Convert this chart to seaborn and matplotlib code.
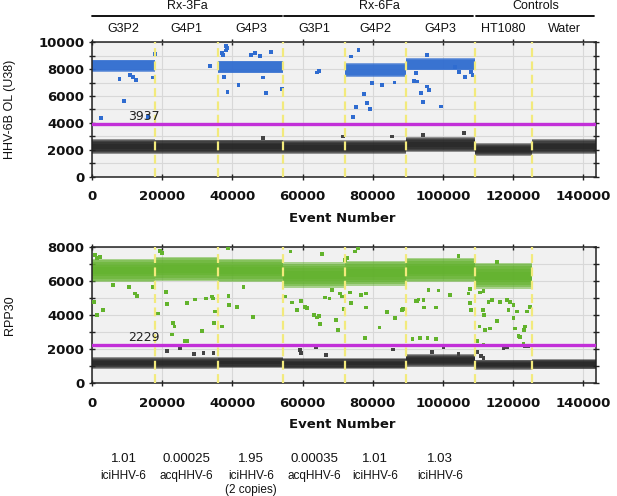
import numpy as np
import pandas as pd
import seaborn as sns
import matplotlib.pyplot as plt
from matplotlib.ticker import MultipleLocator
from matplotlib.transforms import blended_transform_factory

# wells (event number boundaries) and their groups
wells = ["G3P2", "G4P1", "G4P3", "G3P1", "G4P2", "G4P3", "HT1080", "Water"]
well_edges = [0, 18000, 36000, 54500, 72100, 89400, 109100, 125500, 143600]
groups = ["Rx-3Fa", "Rx-6Fa", "Controls"]
group_edges = [0, 54500, 109100, 143600]

nan = np.nan
# HHV-6B OL (U38) droplet clusters: centre and half spread per well
u38_pos_center = [8250, nan, 8150, nan, 7950, 8350, nan, nan]
u38_pos_spread = [450, nan, 470, nan, 500, 450, nan, nan]
u38_neg_center = [2250, 2220, 2220, 2200, 2200, 2400, 2020, 2230]
u38_neg_spread = [560, 540, 540, 540, 540, 560, 500, 540]
u38_threshold = 3937

# RPP30 droplet clusters
rpp_pos_center = [6600, 6700, 6600, 6350, 6450, 6650, 6300, nan]
rpp_pos_spread = [680, 700, 680, 760, 740, 720, 760, nan]
rpp_neg_center = [1190, 1190, 1220, 1160, 1160, 1330, 1090, 1120]
rpp_neg_spread = [330, 330, 330, 320, 320, 360, 290, 300]
rpp_threshold = 2229

# scattered droplets outside the main clusters
u38_out_x = [2560, 9200, 7800, 10800, 11770, 12540, 17950, 17470, 16050, 33630,
             38190, 38380, 38100, 37400, 37130, 38570, 41700, 37700, 45300, 46450,
             47880, 51000, 49500, 48800, 54060, 64200, 64600, 73700, 75900, 77500,
             78300, 79300, 75150, 74300, 79700, 82560, 86150, 92250, 91770, 95500,
             93760, 94300, 95500, 96000, 99450, 104500, 106200, 103400, 108400, 107900,
             92600, 48800, 71450, 85500, 94300, 105950]
u38_out_y = [4345, 5650, 7270, 7570, 7440, 7200, 9130, 7370, 4460, 8240,
             9720, 9550, 9380, 9050, 9180, 6280, 6820, 7400, 9050, 9180,
             8980, 9300, 6250, 7370, 6500, 7740, 7840, 8930, 9430, 6130,
             5460, 5010, 5160, 4460, 6950, 6820, 7000, 7690, 7140, 9050,
             6200, 5580, 6700, 6450, 5210, 7810, 7440, 8180, 7570, 7810,
             7070, 2900, 2980, 2980, 3100, 3270]

rpp_out_x = [850, 1510, 2280, 570, 1340, 3220, 6070, 10630, 12250, 12910,
             17470, 18900, 19380, 19860, 21090, 21460, 23170, 23460, 22710, 21280,
             25080, 26500, 27000, 27160, 29350, 31430, 32480, 34100, 34400, 29070,
             31740, 34580, 35060, 34770, 36960, 38850, 39050, 41240, 38670, 43120,
             45790, 56600, 65460, 55000, 56900, 59560, 58330, 60700, 61190, 63270,
             64040, 64700, 64980, 59280, 59470, 63840, 66690, 66400, 67630, 68300,
             69540, 70010, 71170, 70690, 71640, 72100, 72590, 74950, 75710, 73530,
             73720, 76580, 78090, 78090, 77810, 81880, 83980, 86350, 88260, 88550,
             85690, 91270, 92500, 93470, 95560, 97950, 92330, 92990, 94410, 94610,
             97950, 96810, 100100, 104400, 95840, 98690, 102000, 107240, 107730, 110570,
             111520, 107730, 107920, 111330, 111710, 110370, 111990, 113410, 109610, 111520,
             110760, 111520, 115330, 112930, 113890, 116270, 118180, 119120, 120070, 118650,
             120070, 121030, 120550, 123400, 123110, 121500, 121980, 122920, 123400, 124340,
             124820, 123870, 109610, 117230, 118180, 104400, 115330]
rpp_out_y = [7520, 7330, 7420, 4780, 4000, 4300, 5760, 5660, 5270, 5130,
             5660, 4100, 7770, 7620, 5370, 4630, 3520, 3320, 2870, 1890,
             2050, 2480, 2480, 4690, 4920, 3080, 4980, 5080, 4980, 1720,
             1760, 1760, 4200, 3520, 3320, 5130, 4590, 4490, 7950, 5660,
             3900, 7720, 7560, 5080, 4730, 4820, 4300, 4490, 4400, 4000,
             3850, 3950, 3460, 1950, 1760, 2090, 1660, 5020, 4980, 5470,
             3710, 3120, 5080, 5270, 4360, 7230, 7330, 7720, 7910, 5330,
             4690, 5180, 5270, 4450, 2670, 3280, 4160, 3810, 4300, 4360,
             1990, 2580, 4820, 2640, 2640, 2580, 4820, 4920, 4880, 4450,
             4450, 1850, 2110, 1720, 5470, 5430, 5180, 5270, 5510, 5330,
             5410, 4690, 4300, 4300, 4000, 3320, 3120, 3220, 2480, 2250,
             1600, 1470, 3670, 4780, 4880, 4780, 4880, 4780, 4590, 4300,
             3810, 4200, 3220, 3320, 3120, 2770, 2700, 2340, 2190, 2190,
             4490, 4200, 1850, 2050, 2110, 7460, 7090]

# copy-number ratio and call under the wells of the two samples
ratios = ["1.01", "0.00025", "1.95", "0.00035", "1.01", "1.03"]
calls = ["iciHHV-6", "acqHHV-6", "iciHHV-6", "acqHHV-6", "iciHHV-6", "iciHHV-6"]
notes = ["", "", "(2 copies)", "", "", ""]

sns.set_theme(style="ticks")
plt.rcParams["font.family"] = ["Liberation Sans", "DejaVu Sans"]

# band look: (base colour, alpha per layer, layer fractions of the spread)
BLUE = ("#2f6cd0", 0.62, [1.0, 0.9, 0.75])
GREEN = ("#62b22c", 0.5, [1.0, 0.88, 0.72, 0.5, 0.3])
GRAY = ("#222222", 0.46, [1.0, 0.88, 0.74, 0.55, 0.35])


def draw_bands(ax, centers, spreads, look):
    color, alpha, fracs = look
    for i, (c, s) in enumerate(zip(centers, spreads)):
        if np.isnan(c):
            continue
        x0, x1 = well_edges[i], well_edges[i + 1]
        for frac in fracs:
            ax.fill_between([x0, x1], c - frac * s, c + frac * s, color=color,
                            alpha=alpha, linewidth=0, zorder=2)


def style_axes(ax, ymax):
    ax.set_facecolor("#f1f1f1")
    ax.set_xlim(0, well_edges[-1])
    ax.set_ylim(0, ymax)
    ax.xaxis.set_major_locator(MultipleLocator(20000))
    ax.yaxis.set_major_locator(MultipleLocator(2000))
    ax.yaxis.set_minor_locator(MultipleLocator(1000))
    ax.grid(which="both", color="#d8d8d8", linewidth=0.8, zorder=0)
    ax.set_axisbelow(True)
    ax.tick_params(which="both", direction="inout", length=5, width=1,
                   top=True, right=True, color="#222222")
    ax.tick_params(axis="x", pad=7)
    ax.tick_params(axis="y", pad=3)
    for lab in ax.get_xticklabels() + ax.get_yticklabels():
        lab.set_fontfamily("DejaVu Sans")
        lab.set_fontweight("bold")
        lab.set_fontsize(9.5)
        lab.set_color("#111111")
    for sp in ax.spines.values():
        sp.set_color("#222222")
        sp.set_linewidth(1.1)
    for e in well_edges[1:-1]:
        ax.axvline(e, color="#f2ea7c", linewidth=1.6, linestyle=(0, (4, 2)), zorder=4)
    ax.set_xlabel("")
    ax.set_ylabel("")


def draw_outliers(ax, xs, ys, thr, pos_color):
    df = pd.DataFrame({"event": xs, "amp": ys})
    df["kind"] = np.where(df["amp"] > thr, "pos", "neg")
    sns.scatterplot(data=df, x="event", y="amp", hue="kind",
                    palette={"pos": pos_color, "neg": "#444444"},
                    marker="s", s=7, linewidth=0, legend=False, ax=ax, zorder=3)


fig = plt.figure(figsize=(6.17, 4.96), dpi=100)
ax1 = fig.add_axes([0.1491, 0.6438, 0.8169, 0.2710])
ax2 = fig.add_axes([0.1491, 0.2272, 0.8169, 0.2752])

# top panel: HHV-6B
draw_bands(ax1, u38_neg_center, u38_neg_spread, GRAY)
draw_bands(ax1, u38_pos_center, u38_pos_spread, BLUE)
draw_outliers(ax1, u38_out_x, u38_out_y, u38_threshold, "#2f6cd0")
ax1.axhline(u38_threshold, color="#c22fd8", linewidth=2.4, zorder=5)
ax1.text(10300, u38_threshold + 60, str(u38_threshold), fontsize=9,
         family="DejaVu Sans", color="#222222", va="bottom", zorder=6)
style_axes(ax1, 10000)

# bottom panel: RPP30
draw_bands(ax2, rpp_neg_center, rpp_neg_spread, GRAY)
draw_bands(ax2, rpp_pos_center, rpp_pos_spread, GREEN)
draw_outliers(ax2, rpp_out_x, rpp_out_y, rpp_threshold, "#62b32c")
ax2.axhline(rpp_threshold, color="#c22fd8", linewidth=2.4, zorder=5)
ax2.text(10350, rpp_threshold + 60, str(rpp_threshold), fontsize=9,
         family="DejaVu Sans", color="#222222", va="bottom", zorder=6)
style_axes(ax2, 8000)

fig.text(0.016, 0.7793, "HHV-6B OL (U38)", rotation=90, fontsize=9,
         ha="center", va="center", color="#111111")
fig.text(0.016, 0.365, "RPP30", rotation=90, fontsize=9,
         ha="center", va="center", color="#111111")
for yy in [0.56, 0.145]:
    fig.text(0.555, yy, "Event Number", fontsize=9.5, fontweight="bold",
             family="DejaVu Sans", ha="center", va="center", color="#111111")

# headers above the top panel
tr = blended_transform_factory(ax1.transData, fig.transFigure)
for g, a, b in zip(groups, group_edges[:-1], group_edges[1:]):
    ax1.plot([a + (300 if a else 0), b - 500], [1 - 16 / 496] * 2, color="black",
             linewidth=1.3, transform=tr, clip_on=False)
    ax1.text((a + b) / 2, 1 - 6 / 496, g, transform=tr, ha="center", va="center",
             fontsize=9, color="#111111")
for i, w in enumerate(wells):
    ax1.text((well_edges[i] + well_edges[i + 1]) / 2, 1 - 29 / 496, w, transform=tr,
             ha="center", va="center", fontsize=9, color="#111111")

# ratios and calls below the bottom panel
tr2 = blended_transform_factory(ax2.transData, fig.transFigure)
for i in range(len(ratios)):
    xc = (well_edges[i] + well_edges[i + 1]) / 2
    ax2.text(xc, 1 - 459 / 496, ratios[i], transform=tr2, ha="center", va="center",
             fontsize=9.5, color="#111111")
    ax2.text(xc, 1 - 476 / 496, calls[i], transform=tr2, ha="center", va="center",
             fontsize=8.5, color="#111111")
    if notes[i]:
        ax2.text(xc, 1 - 490 / 496, notes[i], transform=tr2, ha="center", va="center",
                 fontsize=8.5, color="#111111")

fig.savefig("out.png", dpi=100)
